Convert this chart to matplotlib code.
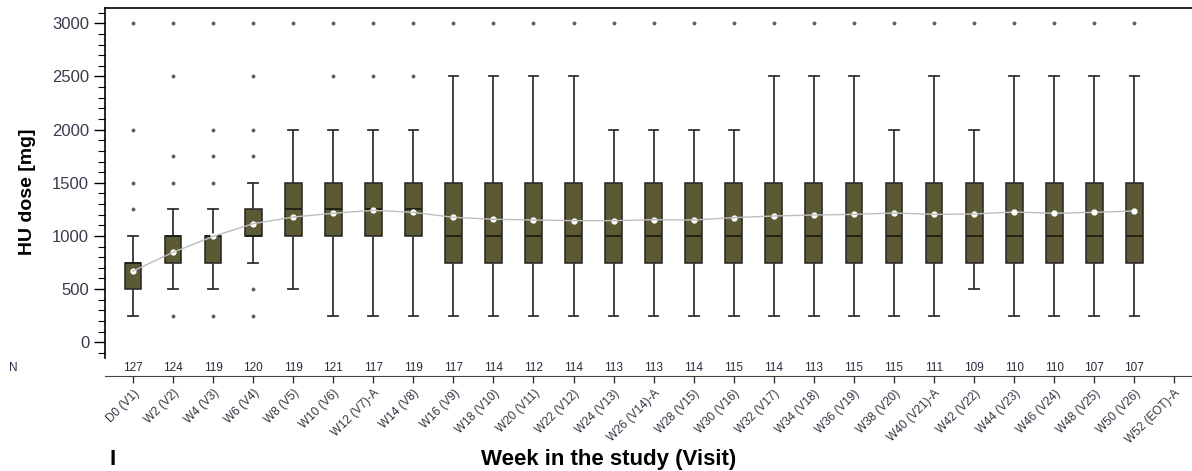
import matplotlib
matplotlib.use('Agg')
import matplotlib.pyplot as plt
from matplotlib.ticker import MultipleLocator

plt.rcParams['font.family'] = ['Liberation Sans', 'DejaVu Sans']

# visits (last one has no box)
labels = ['D0 (V1)', 'W2 (V2)', 'W4 (V3)', 'W6 (V4)', 'W8 (V5)', 'W10 (V6)', 'W12 (V7)-A',
          'W14 (V8)', 'W16 (V9)', 'W18 (V10)', 'W20 (V11)', 'W22 (V12)', 'W24 (V13)',
          'W26 (V14)-A', 'W28 (V15)', 'W30 (V16)', 'W32 (V17)', 'W34 (V18)', 'W36 (V19)',
          'W38 (V20)', 'W40 (V21)-A', 'W42 (V22)', 'W44 (V23)', 'W46 (V24)', 'W48 (V25)',
          'W50 (V26)', 'W52 (EOT)-A']
n_counts = [127, 124, 119, 120, 119, 121, 117, 119, 117, 114, 112, 114, 113,
            113, 114, 115, 114, 113, 115, 115, 111, 109, 110, 110, 107, 107]

q1 = [500, 750, 750, 1000, 1000, 1000, 1000, 1000, 750, 750, 750, 750, 750,
      750, 750, 750, 750, 750, 750, 750, 750, 750, 750, 750, 750, 750]
med = [750, 1000, 1000, 1000, 1250, 1250, 1250, 1250, 1000, 1000, 1000, 1000, 1000,
       1000, 1000, 1000, 1000, 1000, 1000, 1000, 1000, 1000, 1000, 1000, 1000, 1000]
q3 = [750, 1000, 1000, 1250, 1500, 1500, 1500, 1500, 1500, 1500, 1500, 1500, 1500,
      1500, 1500, 1500, 1500, 1500, 1500, 1500, 1500, 1500, 1500, 1500, 1500, 1500]
whislo = [250, 500, 500, 750, 500, 250, 250, 250, 250, 250, 250, 250, 250,
          250, 250, 250, 250, 250, 250, 250, 250, 500, 250, 250, 250, 250]
whishi = [1000, 1250, 1250, 1500, 2000, 2000, 2000, 2000, 2500, 2500, 2500, 2500, 2000,
          2000, 2000, 2000, 2500, 2500, 2500, 2000, 2500, 2000, 2500, 2500, 2500, 2500]
means = [670, 846, 995, 1115, 1178, 1213, 1241, 1222, 1175, 1157, 1150, 1144, 1144,
         1153, 1150, 1172, 1188, 1197, 1203, 1216, 1203, 1207, 1225, 1213, 1222, 1235]
outliers = [[1250, 1500, 2000, 3000], [250, 1500, 1750, 2500, 3000],
            [250, 1500, 1750, 2000, 3000], [250, 500, 1750, 2000, 2500, 3000],
            [3000], [2500, 3000], [2500, 3000], [2500, 3000],
            [3000], [3000], [3000], [3000], [3000], [3000], [3000], [3000], [3000],
            [3000], [3000], [3000], [3000], [3000], [3000], [3000], [3000], [3000]]

stats = []
for i in range(len(q1)):
    stats.append(dict(q1=q1[i], med=med[i], q3=q3[i], whislo=whislo[i],
                      whishi=whishi[i], mean=means[i], fliers=outliers[i]))

fig = plt.figure(figsize=(11.92, 4.71), dpi=100)
ax = fig.add_axes([104.5 / 1192, 113 / 471, 1 - 104.5 / 1192, 350 / 471])

pos = list(range(len(stats)))
ax.plot(pos, means, color='#bdbdbd', lw=1, zorder=3)
ax.bxp(stats, positions=pos, widths=0.42, capwidths=0.24, showmeans=True,
       patch_artist=True, manage_ticks=False,
       boxprops=dict(facecolor='#5b5a35', edgecolor='#222222', linewidth=1.1),
       medianprops=dict(color='#1e1e14', linewidth=1.3),
       whiskerprops=dict(color='#333333', linewidth=1.3),
       capprops=dict(color='#333333', linewidth=1.3),
       flierprops=dict(marker='o', markersize=1.8, markerfacecolor='#606060',
                       markeredgecolor='#606060'),
       meanprops=dict(marker='o', markersize=3.5, markerfacecolor='white',
                      markeredgecolor='white'))
# keep the mean dots above the gray line
for artist in ax.lines[-len(stats):]:
    artist.set_zorder(4)

ax.set_xlim(-0.71, 26.44)
ax.set_ylim(-148, 3144)

ax.spines['right'].set_visible(False)
ax.spines['top'].set_linewidth(1.2)
ax.spines['left'].set_linewidth(1.2)
ax.spines['bottom'].set_position(('outward', 13))
ax.spines['bottom'].set_color('#444444')

ax.yaxis.set_major_locator(MultipleLocator(500))
ax.yaxis.set_minor_locator(MultipleLocator(100))
ax.tick_params(axis='y', which='major', length=8, width=1, labelsize=12,
               labelcolor='#3a3a4c', pad=3)
ax.tick_params(axis='y', which='minor', length=5, width=0.8)

ax.set_xticks(range(len(labels)))
ax.set_xticklabels(labels, rotation=45, ha='right', va='top', rotation_mode='anchor',
                   fontsize=8.5, color='#333340')
ax.tick_params(axis='x', length=5, width=1, color='#333333', pad=3)

for i, n in enumerate(n_counts):
    ax.text(i, -0.029, str(n), transform=ax.get_xaxis_transform(), ha='center',
            va='center', fontsize=8.5, color='#2a2a3a')
fig.text(13 / 1192, (471 - 368) / 471, 'N', fontsize=8.5, color='#2a2a4a',
         ha='center', va='center')

fig.text(27 / 1192, (471 - 192) / 471, 'HU dose [mg]', rotation=90, fontsize=14,
         fontweight='bold', ha='center', va='center')
fig.text(609 / 1192, 6 / 471, 'Week in the study (Visit)', fontsize=16,
         fontweight='bold', ha='center', va='baseline')
fig.text(113 / 1192, 6 / 471, 'I', fontsize=16, fontweight='bold', ha='center',
         va='baseline')

fig.savefig('out.png', dpi=100)
